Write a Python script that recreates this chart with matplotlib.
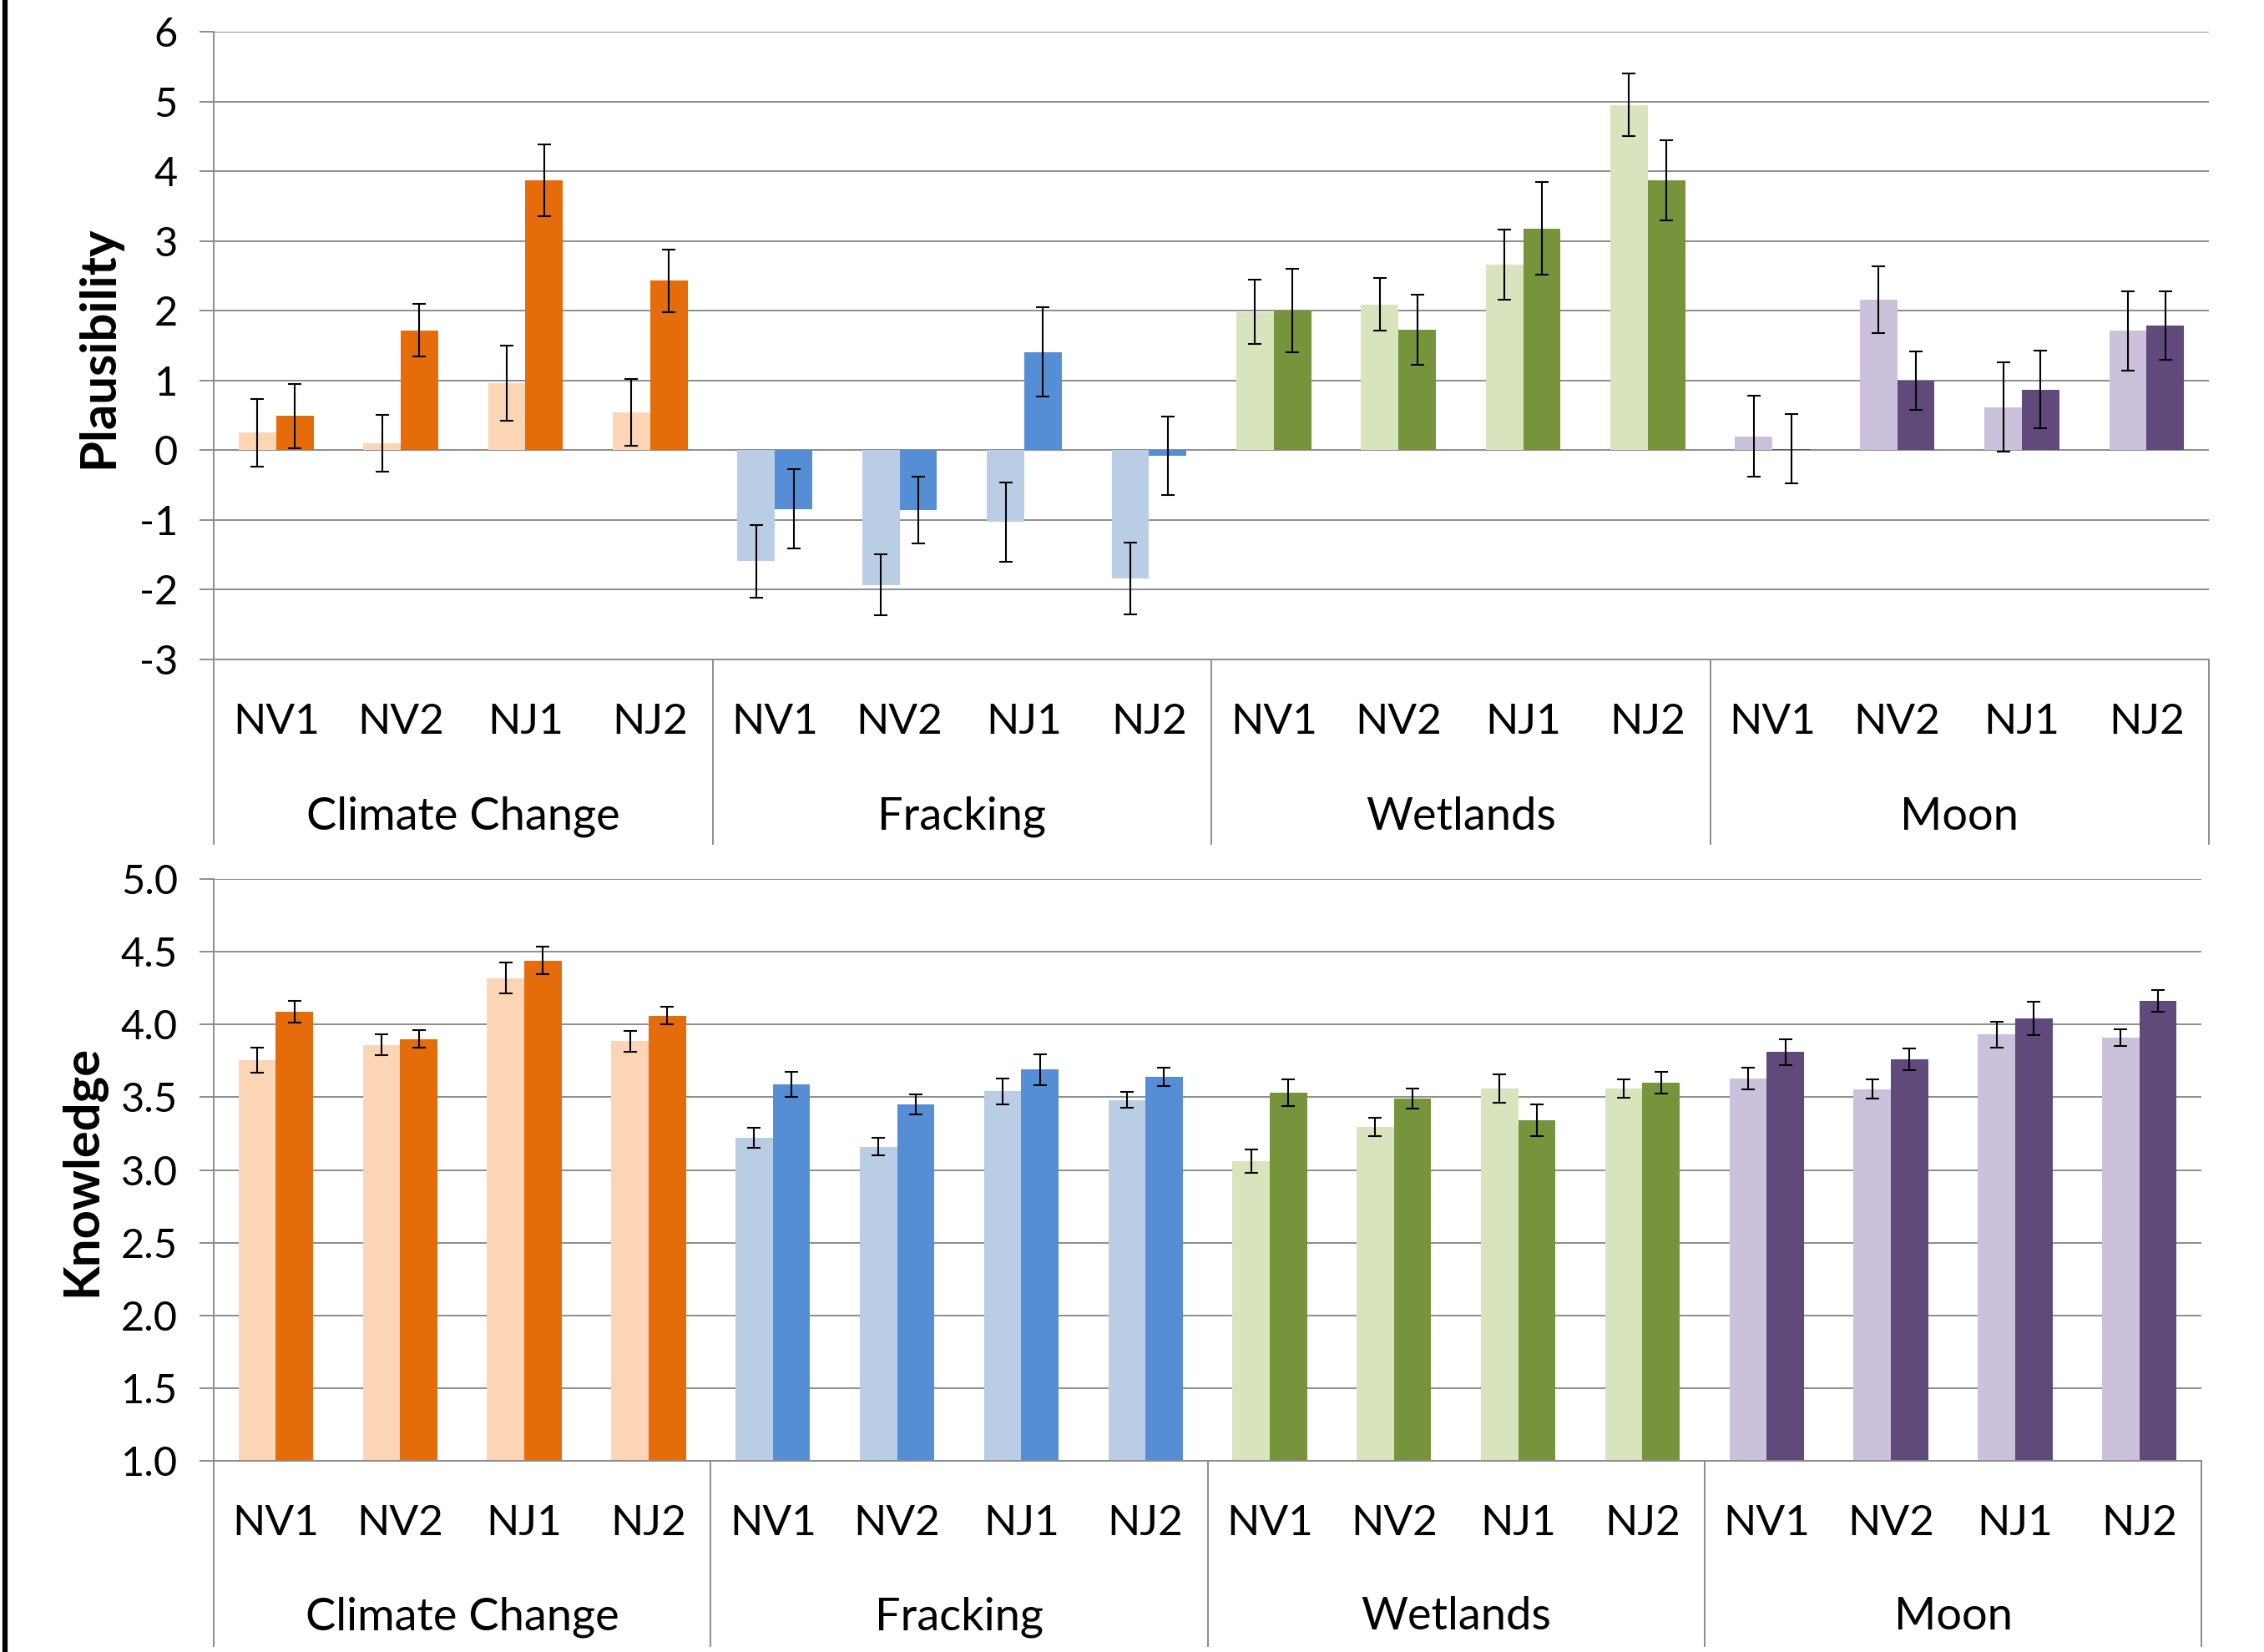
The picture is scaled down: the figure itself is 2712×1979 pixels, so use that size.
import numpy as np
import matplotlib.pyplot as plt
from matplotlib.lines import Line2D
from matplotlib import transforms

plt.rcParams['font.family'] = ['Lato', 'DejaVu Sans']
plt.rcParams['axes.unicode_minus'] = False

topics = ['Climate Change', 'Fracking', 'Wetlands', 'Moon']
sites = ['NV1', 'NV2', 'NJ1', 'NJ2']

# plausibility: light bar and dark bar of each pair, with error bars
plaus_light = [0.25, 0.10, 0.96, 0.54,
               -1.59, -1.93, -1.03, -1.84,
               1.98, 2.09, 2.66, 4.95,
               0.20, 2.16, 0.62, 1.71]
plaus_light_err = [0.49, 0.41, 0.54, 0.48,
                   0.52, 0.44, 0.57, 0.51,
                   0.46, 0.38, 0.50, 0.45,
                   0.58, 0.48, 0.64, 0.57]
plaus_dark = [0.49, 1.72, 3.87, 2.43,
              -0.84, -0.86, 1.41, -0.08,
              2.00, 1.73, 3.18, 3.87,
              0.02, 1.00, 0.87, 1.79]
plaus_dark_err = [0.46, 0.38, 0.51, 0.45,
                  0.57, 0.48, 0.64, 0.56,
                  0.60, 0.50, 0.66, 0.58,
                  0.50, 0.42, 0.56, 0.49]

# knowledge
know_light = [3.755, 3.86, 4.32, 3.885,
              3.22, 3.16, 3.54, 3.48,
              3.06, 3.295, 3.56, 3.56,
              3.63, 3.555, 3.93, 3.91]
know_light_err = [0.085, 0.07, 0.105, 0.07,
                  0.07, 0.06, 0.09, 0.055,
                  0.08, 0.065, 0.10, 0.065,
                  0.075, 0.065, 0.09, 0.055]
know_dark = [4.09, 3.90, 4.44, 4.06,
             3.59, 3.45, 3.69, 3.64,
             3.53, 3.49, 3.34, 3.60,
             3.81, 3.76, 4.04, 4.16]
know_dark_err = [0.075, 0.06, 0.095, 0.06,
                 0.085, 0.07, 0.105, 0.065,
                 0.09, 0.07, 0.11, 0.075,
                 0.09, 0.075, 0.115, 0.075]

light_cols = ['#FBD5B5', '#B9CDE5', '#D7E4BD', '#CCC1DA']
dark_cols = ['#E46C0A', '#558ED5', '#77933C', '#604A7B']
grid_col = '#8c8c8c'

fig = plt.figure(figsize=(27.12, 19.79), dpi=100)


def draw(ax, light, light_err, dark, dark_err, ylim, yticks, fmt, depth, lab_y, grp_y):
    x = np.arange(len(light))
    lc = np.repeat(light_cols, 4)
    dc = np.repeat(dark_cols, 4)
    ax.bar(x - 0.15, light, 0.3, color=lc, zorder=2)
    ax.bar(x + 0.15, dark, 0.3, color=dc, zorder=2)
    ax.errorbar(x - 0.15, light, yerr=light_err, fmt='none', ecolor='black',
                elinewidth=1.5, capsize=6, capthick=1.5, zorder=3)
    ax.errorbar(x + 0.15, dark, yerr=dark_err, fmt='none', ecolor='black',
                elinewidth=1.5, capsize=6, capthick=1.5, zorder=3)

    ax.set_xlim(-0.5, len(light) - 0.5)
    ax.set_ylim(*ylim)
    ax.set_yticks(yticks)
    ax.set_yticklabels([fmt % t for t in yticks])
    ax.set_xticks([])
    ax.yaxis.grid(True, color=grid_col, lw=1.4)
    ax.set_axisbelow(True)
    ax.tick_params(axis='y', length=12, width=1.4, color=grid_col, pad=19, labelsize=35)
    for s in ['top', 'right']:
        ax.spines[s].set_visible(False)
    for s in ['left', 'bottom']:
        ax.spines[s].set_color(grid_col)
        ax.spines[s].set_linewidth(1.4)

    trans = transforms.blended_transform_factory(ax.transData, ax.transAxes)
    for xb in [-0.5, 3.5, 7.5, 11.5, 15.5]:
        ax.plot([xb, xb], [0, -depth], transform=trans, clip_on=False,
                color=grid_col, lw=1.4)
    for i in x:
        ax.text(i, lab_y, sites[i % 4], transform=trans, ha='center', va='center',
                fontsize=37)
    for g, name in enumerate(topics):
        ax.text(4 * g + 1.5, grp_y, name, transform=trans, ha='center', va='center',
                fontsize=39)


ax1 = fig.add_axes([0.0944, 0.6008, 0.8813, 0.380])
draw(ax1, plaus_light, plaus_light_err, plaus_dark, plaus_dark_err,
     (-3, 6), list(range(-3, 7)), '%d', 0.294, -0.1, -0.25)

ax2 = fig.add_axes([0.0944, 0.1157, 0.878, 0.3522])
draw(ax2, know_light, know_light_err, know_dark, know_dark_err,
     (1, 5), list(np.arange(1.0, 5.01, 0.5)), '%.1f', 0.318, -0.108, -0.268)

fig.text(0.0435, 0.79, 'Plausibility', rotation=90, ha='center', va='center',
         fontsize=43, fontweight='bold')
fig.text(0.0364, 0.2915, 'Knowledge', rotation=90, ha='center', va='center',
         fontsize=43, fontweight='bold')

fig.add_artist(Line2D([0.0022, 0.0022], [0, 1], transform=fig.transFigure,
                      color='black', lw=4.5))

fig.savefig('out.png', dpi=100)
